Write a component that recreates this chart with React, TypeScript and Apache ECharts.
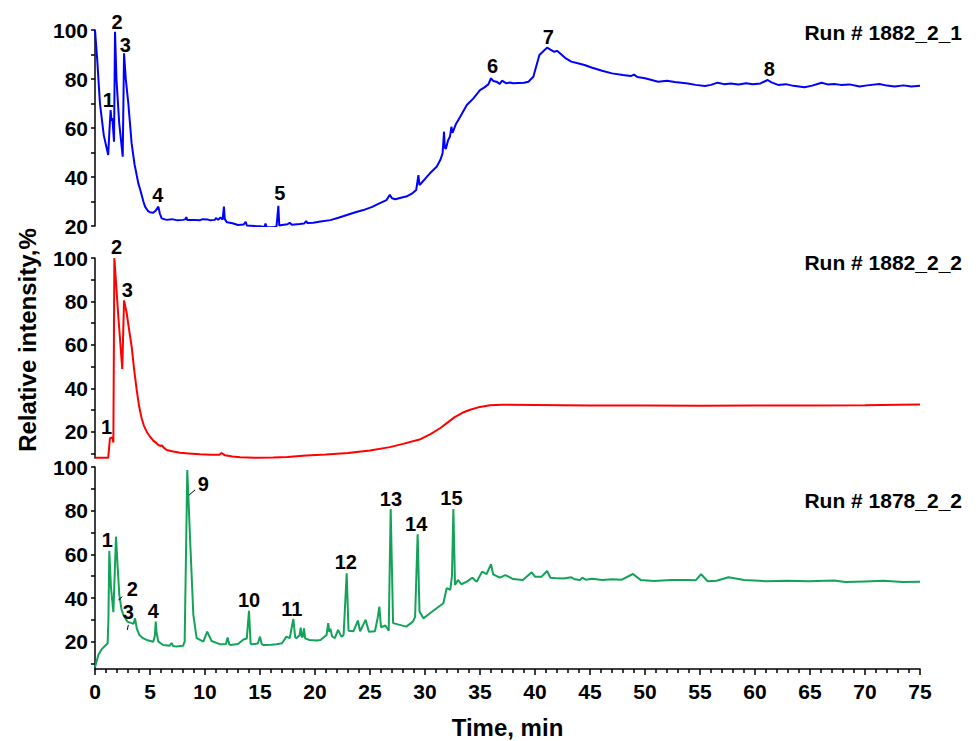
import React, { useEffect, useRef } from 'react';
import * as echarts from 'echarts';

const FONT = '"Liberation Sans", Arial, sans-serif';

const xTicksMin = 0;
const xTicksMax = 75;

// Run # 1882_2_1 (blue): [time, relative intensity]
const run1882_2_1: number[][] = [
  [0, 100], [0.2, 88], [0.45, 70], [0.8, 57], [1.2, 49], [1.3, 58], [1.42, 67.3], [1.5, 63], [1.58, 64], [1.73, 54.4],
  [1.82, 99.3], [1.95, 80], [2.2, 62], [2.52, 48.3], [2.64, 90.5], [2.8, 80], [3.03, 70], [3.33, 53.7], [3.6, 45],
  [3.73, 42.2], [3.8, 40.5], [3.94, 37.4], [4.1, 35], [4.24, 32.7], [4.4, 30], [4.55, 27.9], [4.8, 26.2], [5.0, 25.6],
  [5.3, 25.4], [5.5, 26.2], [5.76, 27.9], [5.9, 25], [6.06, 23.1], [6.5, 22.5], [7, 22.8], [7.5, 22.3], [8.0, 22.5],
  [8.2, 22.7], [8.3, 23.6], [8.4, 22.4], [9.0, 22.5], [9.5, 22.3], [9.8, 22.8], [10.2, 22.7], [10.5, 22.3], [10.9, 22.5],
  [11.0, 23.3], [11.2, 22.5], [11.4, 23.5], [11.6, 22.6], [11.72, 27.9], [11.8, 22.8], [12.0, 21.5], [12.5, 21.1],
  [13.0, 20.4], [13.5, 20.6], [13.7, 21.7], [13.8, 20.2], [14.5, 20], [15.0, 19.9], [15.4, 19.6], [15.5, 21.0],
  [15.6, 19.6], [16.2, 19.5], [16.5, 19.8], [16.67, 28.2], [16.75, 20.2], [17.0, 20.4], [17.5, 20.7], [17.7, 21.3],
  [17.9, 20.5], [18.6, 20.8], [19.0, 21], [19.2, 22], [19.3, 21.2], [19.85, 21.3], [20.5, 21.8], [21.4, 22.4],
  [22.2, 23.5], [22.9, 24.5], [23.6, 25.5], [24.4, 26.5], [25.2, 27.8], [25.9, 29.3], [26.5, 30.6], [26.8, 32.7],
  [27.0, 31.3], [27.3, 30.9], [27.8, 31.5], [28.3, 32.0], [28.8, 33.2], [29.2, 34.7], [29.4, 40.8], [29.5, 36.7],
  [30.0, 39.2], [30.45, 41.5], [31.06, 44.2], [31.4, 47], [31.6, 49.7], [31.73, 58.5], [31.8, 52], [31.9, 51.5],
  [32.1, 55], [32.27, 56.5], [32.4, 60.5], [32.5, 58], [32.8, 61.5], [33.2, 64.6], [33.8, 69.4], [34.4, 72.1],
  [35.0, 75.5], [35.4, 76.6], [35.76, 77.8], [36.0, 80.3], [36.2, 79.2], [36.5, 78.9], [36.8, 78.0], [37.0, 79.3],
  [37.4, 78.2], [37.7, 78.6], [38.0, 78.3], [38.5, 78.4], [39.0, 78.5], [39.4, 78.9], [39.85, 80.9], [40.1, 85],
  [40.4, 89.8], [40.8, 91.5], [41.1, 92.8], [41.4, 92], [41.75, 91.1], [42.0, 91.5], [42.35, 90.2], [42.8, 88.4],
  [43.3, 87.1], [43.8, 86.5], [44.5, 85.7], [45.2, 84.6], [46.1, 83.4], [47.0, 82.3], [48.0, 81.6], [48.7, 81.2],
  [49.0, 81.8], [49.3, 80.8], [50.0, 80.3], [50.6, 79.6], [51.2, 78.9], [52.0, 79.3], [52.7, 78.8], [53.9, 78.2],
  [54.6, 77.6], [55.45, 77.1], [56.0, 77.6], [56.6, 78.5], [57.2, 77.9], [57.8, 78.2], [58.5, 77.8], [59.2, 78.3],
  [59.8, 77.9], [60.5, 78.2], [61.15, 79.6], [61.5, 78.6], [62.1, 77.6], [62.8, 77.9], [63.5, 77.2], [64.5, 76.6],
  [65.2, 77.3], [66.05, 78.5], [66.6, 77.8], [67.2, 78.0], [67.8, 77.6], [68.6, 77.8], [69.5, 76.9], [70.2, 77.4],
  [71.3, 78.0], [72.0, 77.3], [72.7, 76.9], [73.5, 77.4], [74.2, 76.9], [75, 77.2],
];

// Run # 1882_2_2 (red)
const run1882_2_2: number[][] = [
  [0, 8.1], [1.2, 8.1], [1.36, 17.1], [1.58, 17.5], [1.67, 15.1], [1.76, 100], [2.12, 73.1], [2.48, 48.9],
  [2.64, 80.5], [2.88, 74.7], [3.1, 67], [3.33, 59.3], [3.55, 49], [3.79, 39.3], [4.0, 32], [4.24, 26.3],
  [4.45, 22.8], [4.7, 20.1], [5.0, 17.8], [5.3, 16.0], [5.5, 15.2], [5.76, 14.0], [6.0, 13.5], [6.1, 13.9],
  [6.2, 13], [6.52, 11.7], [7.0, 11.1], [7.73, 10.4], [8.5, 10.1], [9.55, 9.7], [10.5, 9.5], [11.3, 9.5],
  [11.5, 10.3], [11.8, 9.3], [12.5, 8.7], [13.2, 8.3], [14.5, 8.1], [16.2, 8.2], [17.5, 8.5], [19.2, 9.1],
  [21, 9.6], [23, 10.3], [25, 11.5], [26.8, 13], [28, 14.5], [29.5, 16.5], [30.5, 19], [31.4, 21.8],
  [32.1, 24.5], [32.7, 26.8], [33.4, 28.8], [34.1, 30.2], [35, 31.5], [35.9, 32.3], [37, 32.5], [40, 32.4],
  [45, 32.2], [50, 32.1], [55, 32], [60, 32.2], [65, 32.2], [70, 32.3], [73, 32.5], [75, 32.6],
];

// Run # 1878_2_2 (green)
const run1878_2_2: number[][] = [
  [0, 8.3], [0.3, 13.9], [0.61, 16.6], [1.06, 18.8], [1.15, 19.3], [1.22, 30], [1.3, 61.5], [1.45, 45], [1.67, 33.5],
  [1.91, 68.1], [2.05, 55], [2.21, 41.4], [2.4, 35], [2.58, 32.3], [2.94, 29.2], [3.33, 28.5], [3.5, 28.2],
  [3.64, 30.7], [3.8, 26], [4.03, 23.1], [4.4, 21.5], [4.7, 20.8], [5.3, 20.0], [5.45, 23], [5.52, 29.2], [5.6, 24],
  [5.76, 20], [6.2, 18.5], [6.8, 18.2], [6.97, 19.4], [7.1, 18], [7.4, 17.75], [8.0, 18.1], [8.15, 20], [8.39, 98.6],
  [8.64, 67.4], [8.94, 32.3], [9.24, 21.6], [9.85, 20], [10.2, 24.6], [10.6, 20.3], [11.4, 18.8], [11.9, 18.9],
  [12.06, 21.9], [12.2, 18.8], [12.3, 18.5], [13.0, 18.9], [13.5, 21], [13.8, 21.5], [14.0, 34.1], [14.15, 19],
  [14.3, 18.8], [14.8, 19.2], [15.0, 22.3], [15.15, 19], [15.3, 18.5], [16.0, 18.6], [16.5, 18.8], [17.0, 19.3],
  [17.4, 22.3], [17.7, 21.6], [18.03, 30.4], [18.2, 22], [18.3, 21.6], [18.6, 23], [18.7, 26.4], [18.8, 22],
  [18.9, 22.5], [19.0, 26.1], [19.1, 21.5], [19.5, 20.8], [20.15, 20.5], [20.5, 20.8], [20.8, 22], [21.05, 23],
  [21.2, 28.5], [21.3, 24.5], [21.4, 26], [21.55, 22.5], [21.8, 21.6], [22.1, 25.4], [22.4, 22.3], [22.6, 23],
  [22.88, 51.3], [23.05, 25], [23.5, 24.8], [23.9, 29.7], [24.1, 24.8], [24.6, 30], [24.9, 24.6], [25.45, 24.8],
  [25.7, 31], [25.85, 36.1], [26.0, 26.6], [26.4, 27.4], [26.7, 25.0], [26.88, 80.8], [27.1, 28.5], [27.7, 27.7],
  [28.3, 26.9], [28.9, 29.2], [29.1, 31.4], [29.33, 69.2], [29.5, 33.8], [29.85, 30.7], [30.45, 33], [31.06, 35.3],
  [31.67, 37.6], [31.97, 44.5], [32.3, 43.8], [32.45, 50], [32.58, 80.8], [32.73, 46], [33.0, 48.3], [33.3, 46.3],
  [33.8, 47.5], [34.3, 49.3], [34.7, 47.5], [35.2, 52.1], [35.6, 51], [36.0, 55.5], [36.2, 50.8], [36.8, 49.3],
  [37.3, 50.5], [38.0, 48.7], [38.9, 48.3], [39.7, 51.8], [40.0, 49.8], [40.6, 49.8], [41.1, 52.4], [41.4, 49.3],
  [42.1, 49.0], [42.6, 48.9], [43.3, 49.5], [43.6, 48.6], [44.1, 48.3], [44.3, 49.3], [44.6, 48.4], [45.2, 48.8],
  [46.1, 48.3], [47.0, 48.6], [47.9, 48.4], [48.9, 51.0], [49.6, 48.3], [50.8, 47.8], [52.4, 48.2], [53.9, 48.2],
  [54.6, 48.1], [55.1, 50.9], [55.7, 47.7], [56.5, 47.9], [57.6, 49.5], [59.0, 48.3], [61.0, 47.7], [62.9, 47.9],
  [64.9, 47.7], [67.2, 48.0], [68.2, 47.3], [70, 47.6], [71.7, 47.9], [73.4, 47.3], [75, 47.5],
];

// Peak annotation labels: [time, intensity, text]
const peaks1: (number | string)[][] = [
  [1.2, 71.4, '1'], [2.0, 103.2, '2'], [2.75, 93.9, '3'], [5.7, 32.7, '4'], [16.8, 33.3, '5'],
  [36.15, 85.3, '6'], [41.2, 97.3, '7'], [61.3, 84, '8'],
];
const peaks2: (number | string)[][] = [
  [1.06, 22.4, '1'], [1.95, 105, '2'], [2.94, 85.4, '3'],
];
const peaks3: (number | string)[][] = [
  [1.12, 66.6, '1'], [3.39, 44.2, '2'], [3.03, 33.8, '3'], [5.3, 34.1, '4'], [9.85, 92.1, '9'],
  [14.0, 39.1, '10'], [17.9, 35, '11'], [22.8, 56.6, '12'], [26.9, 85.2, '13'], [29.2, 73.8, '14'], [32.4, 85.9, '15'],
];
// Leader lines in bottom panel: [[t1, v1], [t2, v2]]
const leaders3: number[][][] = [
  [[8.56, 87.2], [9.1, 89.5]],
  [[2.12, 39.1], [2.48, 40.6]],
  [[3.03, 27.7], [2.94, 25.4]],
];

const runNames = ['Run # 1882_2_1', 'Run # 1882_2_2', 'Run # 1878_2_2'];
const yTicksTop = [20, 30, 40, 50, 60, 70, 80, 90, 100];
const yTicksLow = [10, 20, 30, 40, 50, 60, 70, 80, 90, 100];
const yLabels = [20, 40, 60, 80, 100];

const colors = ['#0000FF', '#FF0000', '#12A358'];

export default function App() {
  const ref = useRef<HTMLDivElement>(null);
  useEffect(() => {
    const chart = echarts.init(ref.current!, null, { renderer: 'svg' });
    const axisLine = { show: true, lineStyle: { color: '#000', width: 1.5 } };
    const yAx = (i: number, min: number, ticks: number[]) => ({
      type: 'value', gridIndex: i, min, max: 100,
      axisLine,
      axisTick: { show: true, length: 4, customValues: ticks, lineStyle: { color: '#000', width: 1.5 } },
      axisLabel: { customValues: yLabels, fontSize: 21, fontWeight: 'bold', color: '#000', fontFamily: FONT, margin: 7 },
      splitLine: { show: false },
    });
    const hiddenX = (i: number) => ({ type: 'value', gridIndex: i, min: xTicksMin, max: xTicksMax, show: false });
    const labelSeries = (i: number, data: (number | string)[][]) => ({
      type: 'scatter', xAxisIndex: i, yAxisIndex: i, data, symbol: 'rect', symbolSize: 0.5, clip: false, silent: true,
      itemStyle: { color: '#ffffff', opacity: 1 },
      label: {
        show: true, position: 'inside', formatter: (p: any) => p.data[2],
        fontSize: 20, fontWeight: 'bold', color: '#000000', fontFamily: FONT,
        textBorderWidth: 0, textBorderColor: 'transparent', opacity: 1,
      },
      z: 5,
    });
    const lineSeries = (i: number, data: number[][], extra: any = {}) => ({
      type: 'line', xAxisIndex: i, yAxisIndex: i, data, showSymbol: false, silent: true,
      lineStyle: { color: colors[i], width: 2 }, itemStyle: { color: colors[i] }, ...extra,
    });
    chart.setOption({
      animation: false,
      backgroundColor: '#fff',
      title: [
        { text: runNames[0], right: 9, top: 17 },
        { text: runNames[1], right: 9, top: 247 },
        { text: runNames[2], right: 9, top: 485 },
      ].map((t) => ({ ...t, textStyle: { fontSize: 21, fontWeight: 'bold', color: '#000', fontFamily: FONT } })),
      grid: [
        { left: 95, right: 56, top: 30, height: 196 },
        { left: 95, right: 56, top: 258, height: 200 },
        { left: 95, right: 56, top: 467, height: 202 },
      ],
      xAxis: [
        hiddenX(0),
        hiddenX(1),
        {
          type: 'value', gridIndex: 2, min: xTicksMin, max: xTicksMax, interval: 5,
          axisLine,
          axisTick: { show: true, length: 6, lineStyle: { color: '#000', width: 1.5 } },
          minorTick: { show: true, splitNumber: 5, length: 4, lineStyle: { color: '#000', width: 1.5 } },
          axisLabel: { fontSize: 21, fontWeight: 'bold', color: '#000', fontFamily: FONT, margin: 12 },
          splitLine: { show: false },
          name: 'Time, min', nameLocation: 'middle', nameGap: 46,
          nameTextStyle: { fontSize: 24, fontWeight: 'bold', color: '#000', fontFamily: FONT },
        },
      ],
      yAxis: [yAx(0, 20, yTicksTop), yAx(1, 8, yTicksLow), yAx(2, 7.5, yTicksLow)],
      graphic: [
        {
          type: 'text', x: 27, y: 340, rotation: Math.PI / 2,
          style: {
            text: 'Relative intensity,%', fontSize: 24, fontWeight: 'bold', fill: '#000', fontFamily: FONT,
            align: 'center', verticalAlign: 'middle',
          },
        },
      ],
      series: [
        lineSeries(0, run1882_2_1),
        lineSeries(1, run1882_2_2),
        lineSeries(2, run1878_2_2, {
          markLine: {
            silent: true, symbol: ['none', 'none'], label: { show: false },
            lineStyle: { color: '#000', width: 1, type: 'solid' },
            data: leaders3.map((l) => [{ coord: l[0] }, { coord: l[1] }]),
          },
        }),
        labelSeries(0, peaks1),
        labelSeries(1, peaks2),
        labelSeries(2, peaks3),
      ],
    });
    return () => chart.dispose();
  }, []);
  return <div ref={ref} style={{ position: 'absolute', left: 0, top: 0, width: 976, height: 741 }} />;
}
